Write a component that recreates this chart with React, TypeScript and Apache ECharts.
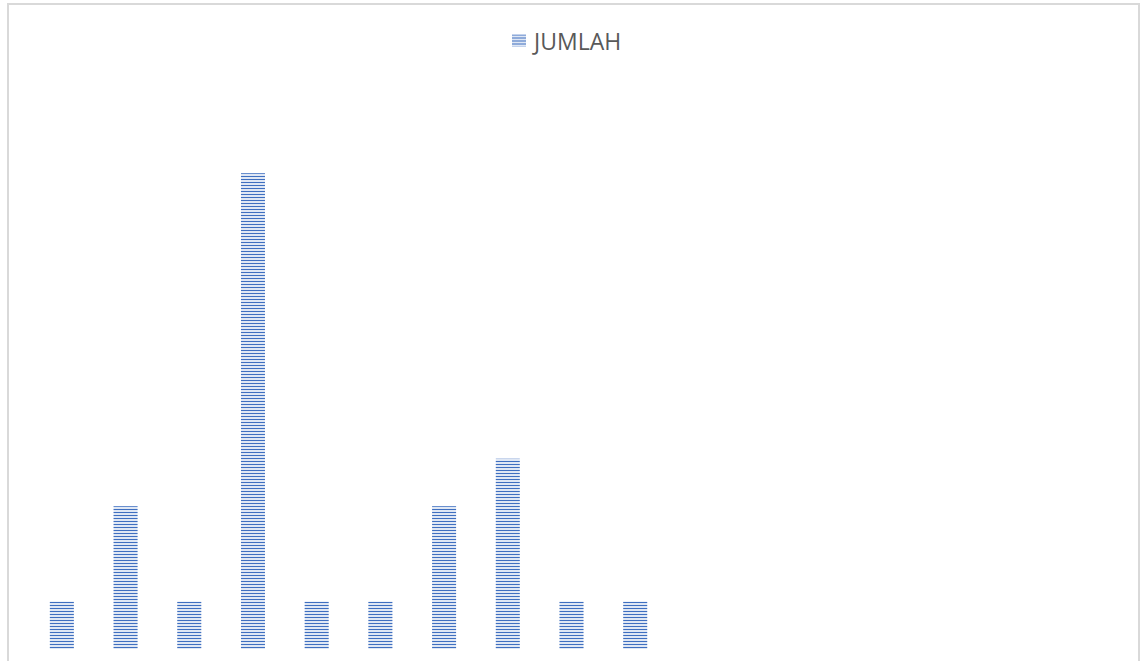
import React, { useEffect, useRef } from "react";
import * as echarts from "echarts";

const categories = ["1", "2", "3", "4", "5", "6", "7", "8", "9", "10", "11", "12", "13", "14", "15", "16", "17"];
const jumlah: (number | null)[] = [1, 3, 1, 10, 1, 1, 3, 4, 1, 1, null, null, null, null, null, null, null];
const seriesName = "JUMLAH";

export default function App() {
  const ref = useRef<HTMLDivElement>(null);
  useEffect(() => {
    if (!ref.current) return;
    const chart = echarts.init(ref.current, undefined, { renderer: "svg" });
    chart.setOption({
      animation: false,
      backgroundColor: "#ffffff",
      legend: {
        top: 19,
        left: 498,
        icon: "rect",
        itemWidth: 14,
        itemHeight: 12,
        itemGap: 8,
        textStyle: { fontFamily: "Open Sans", fontSize: 23, color: "#595959", padding: [0, 0, 0, 3] },
        data: [seriesName],
      },
      grid: { left: 21, right: 25, top: 73, bottom: 12 },
      xAxis: {
        type: "category",
        data: categories,
        axisLine: { show: false },
        axisTick: { show: false },
        axisLabel: { show: false },
      },
      yAxis: {
        type: "value",
        min: 0,
        max: 12,
        interval: 2,
        axisLabel: { show: false },
        axisLine: { show: false },
        axisTick: { show: false },
        splitLine: { show: false },
      },
      series: [
        {
          name: seriesName,
          type: "bar",
          data: jumlah,
          barWidth: 24,
          itemStyle: {
            color: "#dfe7f4",
            decal: {
              symbol: "rect",
              symbolSize: 1,
              color: "#3f6fc0",
              dashArrayX: [1, 0],
              dashArrayY: [1, 2],
              rotation: 0,
            },
          },
        },
      ],
    });
    return () => chart.dispose();
  }, []);
  return (
    <div
      style={{
        position: "absolute",
        left: 7,
        top: 3,
        width: 1129,
        height: 656,
        border: "2px solid #d9d9d9",
        background: "#fff",
      }}
    >
      <div ref={ref} style={{ width: 1129, height: 656 }} />
    </div>
  );
}
